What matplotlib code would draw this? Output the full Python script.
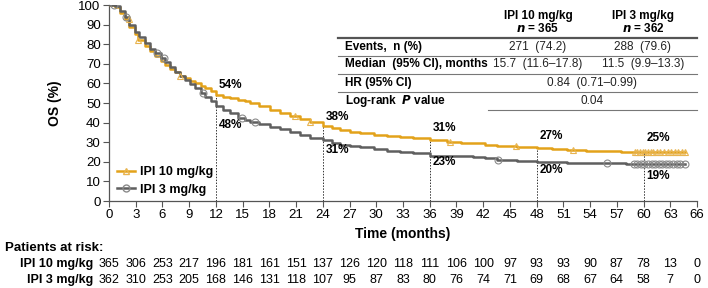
import numpy as np
import matplotlib.pyplot as plt
from matplotlib.lines import Line2D
from matplotlib.transforms import blended_transform_factory

plt.rcParams['font.family'] = ['Liberation Sans', 'DejaVu Sans']

# ---------------- data ----------------
t10 = [0, 0.7, 1.2, 1.8, 2.3, 2.9, 3.3, 4.0, 4.6, 5.2, 5.8, 6.3, 6.9, 7.4, 8.0, 8.5,
       9.1, 9.7, 10.3, 10.8, 11.4, 12.0, 12.8, 13.6, 14.5, 15.3, 15.8, 16.8, 18.1,
       19.2, 20.3, 21.4, 22.6, 24.0, 25.0, 25.9, 27.0, 28.2, 29.7, 31.2, 32.7, 34.1,
       36.0, 37.9, 39.5, 40.9, 42.2, 43.5, 45.8, 48.0, 49.7, 51.4, 53.5, 55.5, 57.5,
       60.0, 64.6]
s10 = [100, 99, 96, 93, 89, 85, 82, 79, 76.5, 74, 71.5, 69.5, 67.5, 66, 64, 62.6,
       61.3, 60, 58.7, 57.5, 56, 54.2, 53.3, 52.4, 51.5, 50.8, 50.2, 48.5, 46.4,
       44.8, 43.4, 42, 40.5, 38.4, 37.2, 36.2, 35.3, 34.5, 33.8, 33.2, 32.6, 32,
       31.0, 30.3, 29.8, 29.4, 28.6, 28.0, 27.6, 26.9, 26.4, 26.0, 25.7, 25.4, 25.2,
       25.0, 25.0]

t3 = [0, 0.7, 1.2, 1.8, 2.3, 2.9, 3.4, 4.0, 4.6, 5.2, 5.8, 6.3, 6.9, 7.4, 8.0, 8.5,
      9.1, 9.7, 10.3, 10.8, 11.4, 12.0, 12.8, 13.6, 14.5, 15.3, 15.8, 16.8, 18.1,
      19.2, 20.3, 21.4, 22.6, 24.0, 25.0, 25.9, 27.0, 28.2, 29.7, 31.2, 32.7, 34.1,
      36.0, 38.2, 40.9, 42.2, 43.5, 45.8, 48.0, 49.7, 51.4, 55.9, 58.0, 60.0, 64.6]
s3 = [100, 99.5, 97, 94, 90, 86.4, 83.5, 80.4, 77.8, 75.3, 73, 71, 68.5, 66, 63.8, 61.7,
      59.5, 57.5, 55.3, 53.2, 51, 48.3, 46.5, 44.7, 42.5, 41.3, 40.5, 39.3, 37.9,
      36.6, 35.4, 33.8, 32, 31.0, 29.6, 28.6, 28, 27.4, 26.5, 25.7, 25, 24.3,
      23.2, 22.9, 22.5, 21.8, 21.0, 20.5, 20.0, 19.8, 19.6, 19.2, 19.0, 19.0, 18.9]

cens10 = [2.2, 3.3, 8.0, 20.9, 22.6, 38.3, 45.7, 52.1, 59.0, 59.3, 59.6, 59.9, 60.2,
          60.5, 60.8, 61.1, 61.5, 61.9, 62.3, 62.7, 63.1, 63.5, 63.9, 64.3, 64.6]
cens3 = [0.6, 1.9, 5.4, 6.2, 10.6, 14.9, 16.4, 43.7, 55.9, 58.9, 59.3, 59.7, 60.1,
         60.5, 60.9, 61.3, 61.7, 62.1, 62.5, 62.9, 63.3, 63.7, 64.1, 64.6]

landmarks = [12, 24, 36, 48, 60]
lab10 = ['54%', '38%', '31%', '27%', '25%']
lab3 = ['48%', '31%', '23%', '20%', '19%']
lab10_y = [59, 43, 37, 33, 32]
lab3_y = [39, 26, 20, 16, 13]

risk_times = list(range(0, 67, 3))
risk10 = [365, 306, 253, 217, 196, 181, 161, 151, 137, 126, 120, 118, 111, 106, 100,
          97, 93, 93, 90, 87, 78, 13, 0]
risk3 = [362, 310, 253, 205, 168, 146, 131, 118, 107, 95, 87, 83, 80, 76, 74, 71,
         69, 68, 67, 64, 58, 7, 0]

tbl_rows = ['Events,  n (%)', 'Median  (95% CI), months', 'HR (95% CI)', 'Log-rank  $\\bfit{P}$ value']
tbl_10 = ['271  (74.2)', '15.7  (11.6\u201317.8)']
tbl_3 = ['288  (79.6)', '11.5  (9.9\u201313.3)']
tbl_both = ['0.84  (0.71\u20130.99)', '0.04']

C10 = '#E3A21A'
C3 = '#5F5F5F'


def step_at(tt, ss, x):
    i = np.searchsorted(tt, x, side='right') - 1
    return np.asarray(ss)[i]


W, H = 708, 288
fig = plt.figure(figsize=(W / 100, H / 100), dpi=100)
ax = fig.add_axes([109 / W, 1 - 201 / H, (697 - 109) / W, (201 - 5) / H])


def fx(px):
    return px / W


def fy(py):
    return 1 - py / H


ax.plot(t10, s10, drawstyle='steps-post', color=C10, lw=1.8, zorder=3)
ax.plot(t3, s3, drawstyle='steps-post', color=C3, lw=1.8, zorder=3)
ax.plot(cens10, step_at(t10, s10, cens10), ls='none', marker='^', ms=5,
        mfc='none', mec='#E8B450', mew=0.8, zorder=4)
ax.plot(cens3, step_at(t3, s3, cens3), ls='none', marker='o', ms=5,
        mfc='none', mec='#8a8a8a', mew=0.8, zorder=4)

for i, m in enumerate(landmarks):
    top = step_at(t10, s10, m)
    ax.plot([m, m], [0, top], color='#333333', lw=0.7, ls=(0, (1.5, 1.5)), zorder=2)
    ax.text(m + 0.3, lab10_y[i], lab10[i], fontsize=8.5, fontweight='bold',
            ha='left', va='center')
    ax.text(m + 0.3, lab3_y[i], lab3[i], fontsize=8.5, fontweight='bold',
            ha='left', va='center')

ax.set_xlim(0, 66)
ax.set_ylim(0, 100)
ax.set_xticks(risk_times)
ax.set_yticks(range(0, 101, 10))
ax.tick_params(labelsize=9.5, length=4, width=0.8, color='#555555', pad=2)
for sp in ['top', 'right']:
    ax.spines[sp].set_visible(False)
for sp in ['left', 'bottom']:
    ax.spines[sp].set_color('#555555')
    ax.spines[sp].set_linewidth(0.9)
ax.set_ylabel('OS (%)', fontsize=10, fontweight='bold', labelpad=12)
ax.set_xlabel('Time (months)', fontsize=10, fontweight='bold', labelpad=4)

# legend
handles = [Line2D([], [], color=C10, lw=1.8, marker='^', mfc='none', mec='#E8B450', ms=5),
           Line2D([], [], color=C3, lw=1.8, marker='o', mfc='none', mec='#8a8a8a', ms=5)]
leg = ax.legend(handles, ['IPI 10 mg/kg', 'IPI 3 mg/kg'], loc='lower left',
                bbox_to_anchor=(-0.005, -0.03), frameon=False, handlelength=1.4,
                handletextpad=0.4, labelspacing=0.45, prop={'weight': 'bold', 'size': 9})

# table
fig.text(fx(538), fy(16), 'IPI 10 mg/kg', ha='center', va='center', fontsize=8.5, fontweight='bold')
fig.text(fx(538), fy(28), '$\\bfit{n}$ = 365', ha='center', va='center', fontsize=8.5, fontweight='bold')
fig.text(fx(643), fy(16), 'IPI 3 mg/kg', ha='center', va='center', fontsize=8.5, fontweight='bold')
fig.text(fx(643), fy(28), '$\\bfit{n}$ = 362', ha='center', va='center', fontsize=8.5, fontweight='bold')
fig.add_artist(Line2D([fx(338), fx(697)], [fy(38), fy(38)], color='#555555', lw=1.6))
row_y = [47, 64, 83, 101]
for i, r in enumerate(tbl_rows):
    fig.text(fx(345), fy(row_y[i]), r, ha='left', va='center', fontsize=8.5, fontweight='bold')
for i in range(2):
    fig.text(fx(538), fy(row_y[i]), tbl_10[i], ha='center', va='center', fontsize=8.5, color='#222222')
    fig.text(fx(643), fy(row_y[i]), tbl_3[i], ha='center', va='center', fontsize=8.5, color='#222222')
    fig.text(fx(592), fy(row_y[i + 2]), tbl_both[i], ha='center', va='center', fontsize=8.5, color='#222222')
for yy in [56, 74, 92]:
    fig.add_artist(Line2D([fx(338), fx(697)], [fy(yy), fy(yy)], color='#777777', lw=0.8))
fig.add_artist(Line2D([fx(488), fx(697)], [fy(110), fy(110)], color='#777777', lw=0.8))

# patients at risk
fig.text(fx(5), fy(248), 'Patients at risk:', ha='left', va='center', fontsize=9.5, fontweight='bold')
fig.text(fx(93), fy(264), 'IPI 10 mg/kg', ha='right', va='center', fontsize=9, fontweight='bold')
fig.text(fx(93), fy(280), 'IPI 3 mg/kg', ha='right', va='center', fontsize=9, fontweight='bold')
tr = blended_transform_factory(ax.transData, fig.transFigure)
for x, a, b in zip(risk_times, risk10, risk3):
    ax.text(x, fy(264), str(a), transform=tr, ha='center', va='center', fontsize=9, clip_on=False)
    ax.text(x, fy(280), str(b), transform=tr, ha='center', va='center', fontsize=9, clip_on=False)

fig.savefig('out.png', dpi=100)
